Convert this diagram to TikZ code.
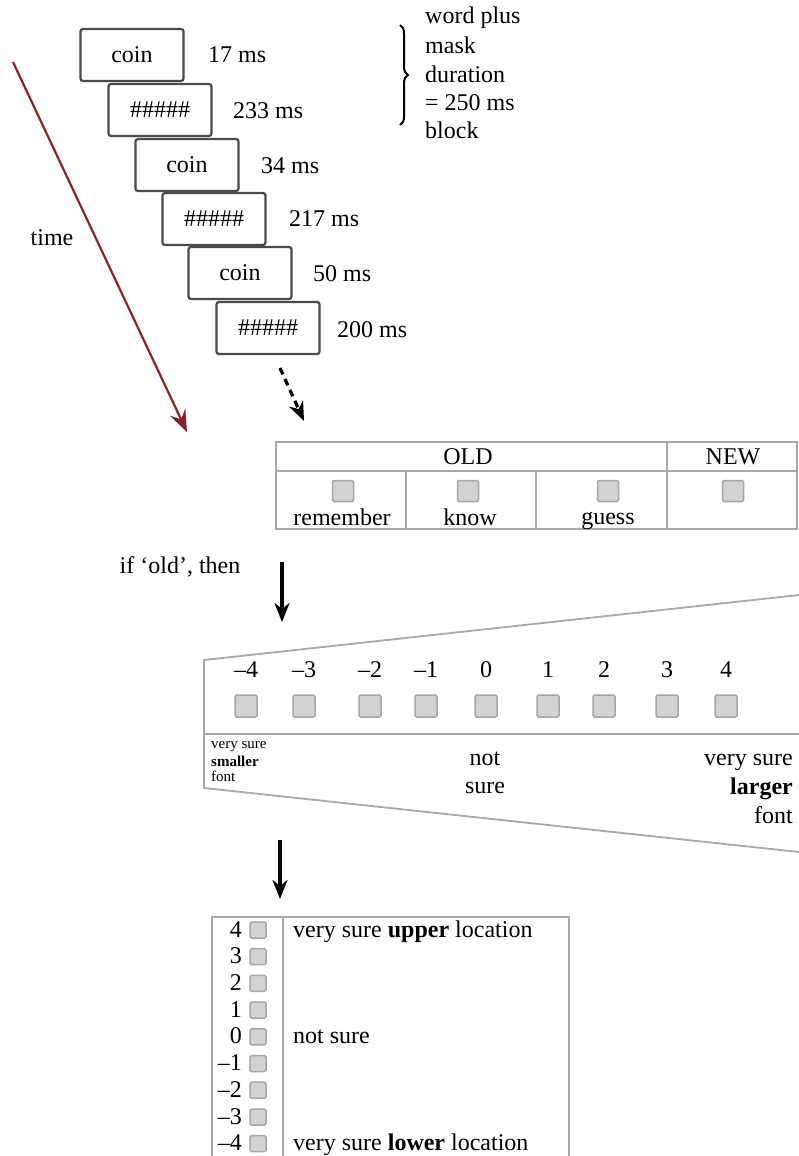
\documentclass[tikz,border=0pt]{standalone}
\usepackage{fontspec}
\setmainfont{Liberation Serif}
\usetikzlibrary{arrows.meta,decorations.pathreplacing}
\definecolor{maroon}{HTML}{8B2323}
\definecolor{frameline}{HTML}{4A4A4A}
\definecolor{gridline}{HTML}{A8A8A8}
\definecolor{chkfill}{HTML}{D2D2D2}
\definecolor{chkline}{HTML}{A6A6A6}
\begin{document}
\begin{tikzpicture}[x=1pt,y=-1pt,
  txt/.style={font=\fontsize{24}{28.6}\selectfont, inner sep=0pt},
  smalltxt/.style={font=\fontsize{15}{16.5}\selectfont, inner sep=0pt},
  frame/.style={draw=frameline, line width=2.2pt, rounded corners=2.5pt, minimum width=103pt, minimum height=52pt, inner sep=0pt, font=\fontsize{24}{28.6}\selectfont},
  chk/.style={draw=chkline, fill=chkfill, line width=1.5pt, rounded corners=1.5pt, inner sep=0pt},
  bigchk/.style={chk, minimum size=22pt},
  midchk/.style={chk, minimum size=21pt},
  tinychk/.style={chk, minimum size=16pt},
  grid/.style={draw=gridline, line width=1.8pt},
  darrow/.style={line width=3.2pt, -{Stealth[length=19pt,width=15pt,inset=6pt]}},
  timearrow/.style={draw=maroon, line width=2.2pt, -{Stealth[length=22pt,width=17pt,inset=8pt]}},
]
\useasboundingbox[fill=white] (0,0) rectangle (799,1156);

% --- stimulus frames ---
\node[frame] (b1) at (132,55) {coin};
\node[frame] (b2) at (160,110) {\#\#\#\#\#};
\node[frame] (b3) at (187,165) {coin};
\node[frame] (b4) at (214,219) {\#\#\#\#\#};
\node[frame] (b5) at (240,273) {coin};
\node[frame] (b6) at (268,328) {\#\#\#\#\#};

\node[txt, anchor=west] (d1) at (208,55) {17 ms};
\node[txt, anchor=west] (d2) at (233,111) {233 ms};
\node[txt, anchor=west] (d3) at (261,166) {34 ms};
\node[txt, anchor=west] (d4) at (289,219) {217 ms};
\node[txt, anchor=west] (d5) at (313,274) {50 ms};
\node[txt, anchor=west] (d6) at (337,330) {200 ms};

% brace and note
\coordinate (br0) at (400,25);
\coordinate (br1) at (400,125);
\draw[line width=2pt, decorate, decoration={brace, amplitude=8pt}] (br0) -- (br1);
\node[txt, anchor=base west] (n1) at (425,24) {word plus};
\node[txt, anchor=base west] (n2) at (425,53) {mask};
\node[txt, anchor=base west] (n3) at (425,82) {duration};
\node[txt, anchor=base west] (n4) at (425,110) {= 250 ms};
\node[txt, anchor=base west] (n5) at (425,138) {block};

% time arrow
\node[txt] (time) at (52,238) {time};
\coordinate (t0) at (13,62);
\coordinate (t1) at (187,432);
\draw[timearrow] (t0) -- (t1);

% dashed arrow
\coordinate (da0) at (280,368);
\coordinate (da1) at (304,421);
\draw[darrow, dash pattern=on 7pt off 5pt] (da0) -- (da1);

% --- OLD / NEW table ---
\draw[grid] (276,442) rectangle (797,529);
\draw[grid] (276,471) -- (797,471);
\draw[grid] (406,471) -- (406,529);
\draw[grid] (536,471) -- (536,529);
\draw[grid] (667,442) -- (667,529);
\node[txt] (old) at (468,457) {OLD};
\node[txt] (new) at (733,457) {NEW};
\node[midchk] (c1) at (343,491) {};
\node[midchk] (c2) at (468,491) {};
\node[midchk] (c3) at (608,491) {};
\node[midchk] (c4) at (733,491) {};
\node[txt, anchor=base] (rem) at (342,525) {remember};
\node[txt, anchor=base] (know) at (470,525) {know};
\node[txt, anchor=base] (guess) at (608,524) {guess};

% if old arrow
\node[txt] (ifold) at (180,567) {if `old', then};
\coordinate (a2s) at (282,562);
\coordinate (a2e) at (282,622);
\draw[darrow] (a2s) -- (a2e);

% --- font-size scale ---
\draw[grid] (799,595) -- (204,660) -- (204,788) -- (799,852);
\draw[grid] (204,734) -- (799,734);
\foreach \v/\x/\n in {--4/246/m4, --3/304/m3, --2/370/m2, --1/426/m1, 0/486/z, 1/548/p1, 2/604/p2, 3/667/p3, 4/726/p4}{
  \node[txt] (s\n) at (\x,670) {\v};
  \node[bigchk] (q\n) at (\x,706) {};
}
\node[smalltxt, anchor=base west] (vs1) at (211,748) {very sure};
\node[smalltxt, anchor=base west] (sm) at (211,766) {\textbf{smaller}};
\node[smalltxt, anchor=base west] (ft1) at (211,781) {font};
\node[txt, anchor=base] (ns1) at (485,765) {not};
\node[txt, anchor=base] (ns2) at (485,793) {sure};
\node[txt, anchor=base east] (vs2) at (793,765) {very sure};
\node[txt, anchor=base east] (lg) at (793,794) {\textbf{larger}};
\node[txt, anchor=base east] (ft2) at (793,823) {font};

% arrow to location scale
\coordinate (a3s) at (280,840);
\coordinate (a3e) at (280,899);
\draw[darrow] (a3s) -- (a3e);

% --- location scale ---
\draw[grid] (212,1160) -- (212,917) -- (569,917) -- (569,1160);
\draw[grid] (283,917) -- (283,1160);
\foreach \v/\y/\n in {4/937/p4, 3/963.7/p3, 2/990.4/p2, 1/1017/p1, 0/1043.8/z, --1/1070.5/m1, --2/1097.2/m2, --3/1124/m3, --4/1150.6/m4}{
  \node[txt, anchor=base east] (l\n) at (242,\y) {\v};
  \node[tinychk] (r\n) at (258,\y-7) {};
}
\node[txt, anchor=base west] (up) at (293,937) {very sure \textbf{upper} location};
\node[txt, anchor=base west] (ns3) at (293,1043.8) {not sure};
\node[txt, anchor=base west] (lo) at (293,1150.6) {very sure \textbf{lower} location};
\end{tikzpicture}
\end{document}
